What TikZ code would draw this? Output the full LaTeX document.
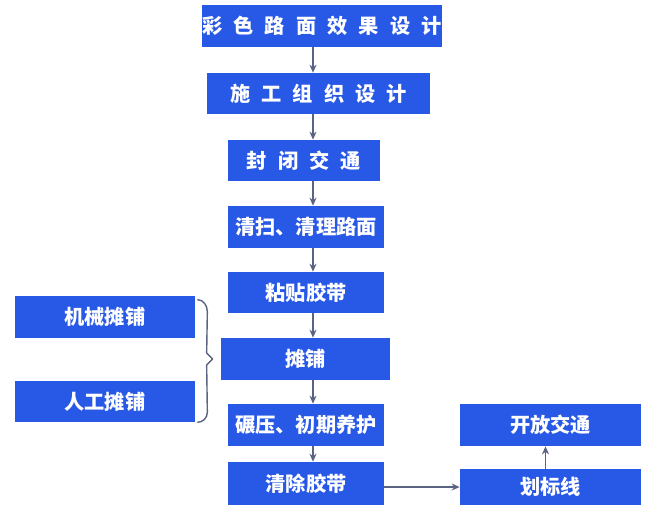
\documentclass[tikz,border=0pt]{standalone}
\usepackage{fontspec}
\setmainfont{Noto Sans CJK SC}
\usepackage{tikz}
\usetikzlibrary{arrows.meta, positioning, calc}
\definecolor{stepblue}{RGB}{40,88,230}
\definecolor{linegray}{RGB}{90,100,130}
\newcommand{\gap}{\hspace{0.55em}}

\begin{document}
\begin{tikzpicture}[
    x=0.02cm, y=-0.02cm,
    every node/.style={font=\fontsize{11.5}{13}\selectfont\bfseries},
    stepbox/.style={rectangle, fill=stepblue, text=white, inner sep=0pt, align=center},
    arrow/.style={-{Stealth[length=1.6mm, width=1.4mm]}, linegray, thick},
    brace/.style={linegray, thick, line join=round}
]
\useasboundingbox (0,0) rectangle (664,512);

\node[stepbox, minimum width=4.76cm, minimum height=0.84cm] (design) at (322,26) {彩\gap 色\gap 路\gap 面\gap 效\gap 果\gap 设\gap 计};
\node[stepbox, minimum width=4.46cm, minimum height=0.82cm] (plan) at (318.5,93.5) {施\gap 工\gap 组\gap 织\gap 设\gap 计};
\node[stepbox, minimum width=3.04cm, minimum height=0.82cm] (close) at (304,160.5) {封\gap 闭\gap 交\gap 通};
\node[stepbox, minimum width=3.12cm, minimum height=0.84cm] (clean) at (306,227) {清扫、清理路面};
\node[stepbox, minimum width=3.12cm, minimum height=0.82cm] (tape) at (306,292.5) {粘贴胶带};
\node[stepbox, minimum width=3.38cm, minimum height=0.84cm] (pave) at (305.5,359) {摊铺};
\node[stepbox, minimum width=3.12cm, minimum height=0.84cm] (roll) at (306,425) {碾压、初期养护};
\node[stepbox, minimum width=3.12cm, minimum height=0.86cm] (remove) at (306,483.5) {清除胶带};
\node[stepbox, minimum width=3.62cm, minimum height=0.84cm] (open) at (550.5,425) {开放交通};
\node[stepbox, minimum width=3.62cm, minimum height=0.72cm] (mark) at (550.5,487) {划标线};
\node[stepbox, minimum width=3.6cm, minimum height=0.84cm] (machine) at (105,317) {机械摊铺};
\node[stepbox, minimum width=3.6cm, minimum height=0.82cm] (manual) at (105,401.5) {人工摊铺};

\coordinate (spine) at (313,0);
\draw[arrow] (design.south -| spine) -- (plan.north -| spine);
\draw[arrow] (plan.south -| spine) -- (close.north -| spine);
\draw[arrow] (close.south -| spine) -- (clean.north -| spine);
\draw[arrow] (clean.south -| spine) -- (tape.north -| spine);
\draw[arrow] (tape.south -| spine) -- (pave.north -| spine);
\draw[arrow] (pave.south -| spine) -- (roll.north -| spine);
\draw[arrow] (roll.south -| spine) -- (remove.north -| spine);
\draw[arrow] (remove.east |- mark) -- (mark.west);
\draw[arrow] ($(mark.north)+(-5,0)$) -- ($(open.south)+(-5,0)$);

% brace joining the two paving methods
\draw[brace] ($(machine.north east)+(2,4)$) to[out=0, in=90] ++(10,12)
  -- ($(pave.west)+(-14,-6)$) -- ($(pave.west)+(-8,0)$) -- ($(pave.west)+(-14,6)$)
  -- ($(manual.south east)+(12,-10)$) to[out=-90, in=0] ++(-10,10);
\end{tikzpicture}
\end{document}
